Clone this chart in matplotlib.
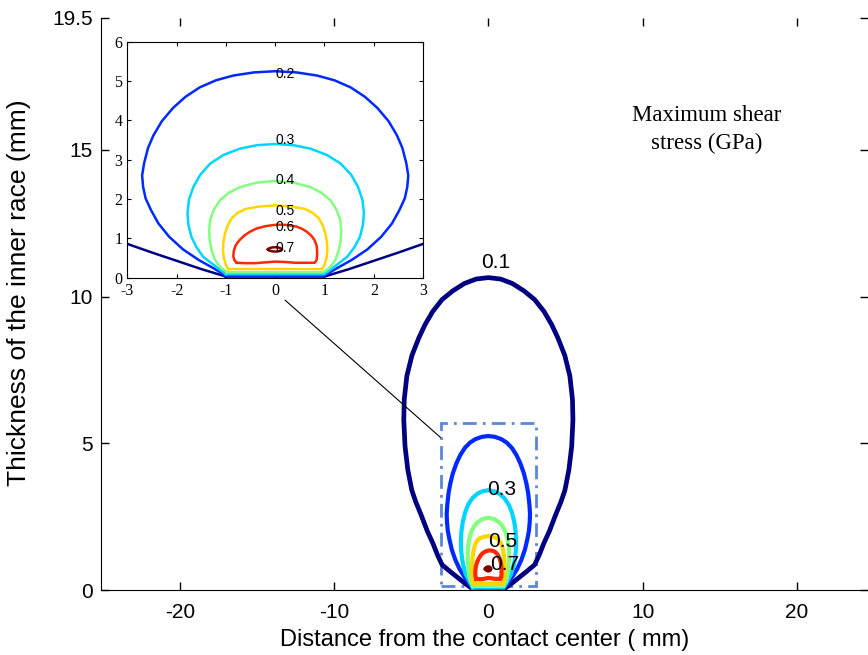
import numpy as np
import matplotlib.pyplot as plt
from matplotlib.colors import LinearSegmentedColormap, Normalize
from matplotlib.patches import Rectangle, ConnectionPatch

plt.rcParams['axes.unicode_minus'] = False
SANS = 'Liberation Sans'
SERIF = 'Liberation Serif'

# contour levels of the maximum shear stress (GPa)
levels = [0.1, 0.2, 0.3, 0.4, 0.5, 0.6, 0.7]

# traced iso-lines, x = distance from contact center (mm), y = depth (mm)
c1_x = [-1.0, -1.5, -2.0, -2.5, -3.0, -3.3, -3.6, -3.95, -4.35, -4.7, -4.96, -5.22, -5.4, -5.48, -5.45, -5.28,
        -4.95, -4.5, -4.1, -3.6, -3.0, -2.3, -1.55, -0.8, 0.0,
        0.8, 1.55, 2.3, 3.0, 3.6, 4.1, 4.5, 4.95, 5.28, 5.45, 5.48, 5.4, 5.22, 4.96, 4.7, 4.35, 3.95, 3.6,
        3.3, 3.0, 2.5, 2.0, 1.5, 1.0, -1.0]
c1_y = [0.03, 0.22, 0.43, 0.64, 0.86, 1.2, 1.6, 2.0, 2.55, 3.0, 3.4, 4.1, 4.9, 5.8, 6.5, 7.3,
        8.0, 8.6, 9.05, 9.5, 9.9, 10.2, 10.45, 10.6, 10.65,
        10.6, 10.45, 10.2, 9.9, 9.5, 9.05, 8.6, 8.0, 7.3, 6.5, 5.8, 4.9, 4.1, 3.4, 3.0, 2.55, 2.0, 1.6,
        1.2, 0.86, 0.64, 0.43, 0.22, 0.03, 0.03]

c2_x = [-1.0, -1.25, -1.55, -1.87, -2.15, -2.37, -2.52, -2.63, -2.68, -2.7, -2.66, -2.58, -2.47, -2.3, -2.07,
        -1.82, -1.53, -1.2, -0.85, -0.43, 0.0,
        0.43, 0.85, 1.2, 1.53, 1.82, 2.07, 2.3, 2.47, 2.58, 2.66, 2.7, 2.68, 2.63, 2.52, 2.37, 2.15, 1.87,
        1.55, 1.25, 1.0, -1.0]
c2_y = [0.05, 0.24, 0.45, 0.72, 1.04, 1.38, 1.72, 2.02, 2.31, 2.6, 2.91, 3.3, 3.62, 3.98, 4.32,
        4.6, 4.84, 5.02, 5.14, 5.22, 5.25,
        5.22, 5.14, 5.02, 4.84, 4.6, 4.32, 3.98, 3.62, 3.3, 2.91, 2.6, 2.31, 2.02, 1.72, 1.38, 1.04, 0.72,
        0.45, 0.24, 0.05, 0.05]

c3_x = [-1.0, -1.2, -1.46, -1.6, -1.7, -1.76, -1.78, -1.75, -1.66, -1.52, -1.32, -1.05, -0.72, -0.37, 0.0,
        0.37, 0.72, 1.05, 1.33, 1.54, 1.68, 1.77, 1.8, 1.78, 1.72, 1.61, 1.46, 1.2, 1.0, -1.0]
c3_y = [0.09, 0.28, 0.53, 0.78, 1.04, 1.34, 1.64, 1.98, 2.31, 2.62, 2.9, 3.12, 3.28, 3.37, 3.40,
        3.37, 3.28, 3.12, 2.9, 2.62, 2.31, 1.98, 1.64, 1.34, 1.04, 0.78, 0.53, 0.28, 0.09, 0.09]

c4_x = [-0.98, -1.12, -1.22, -1.29, -1.33, -1.34, -1.32, -1.24, -1.12, -0.94, -0.72, -0.37, 0.0,
        0.37, 0.72, 0.94, 1.12, 1.24, 1.32, 1.34, 1.33, 1.29, 1.22, 1.12, 0.98, -0.98]
c4_y = [0.14, 0.28, 0.45, 0.7, 0.96, 1.22, 1.47, 1.74, 1.97, 2.16, 2.3, 2.42, 2.46,
        2.42, 2.3, 2.16, 1.97, 1.74, 1.47, 1.22, 0.96, 0.7, 0.45, 0.28, 0.14, 0.14]

c5_x = [-0.95, -1.0, -1.04, -1.06, -1.05, -1.02, -0.96, -0.88, -0.76, -0.6, -0.32, 0.0,
        0.32, 0.6, 0.76, 0.88, 0.96, 1.02, 1.05, 1.06, 1.04, 1.0, 0.95, -0.95]
c5_y = [0.22, 0.32, 0.5, 0.7, 0.9, 1.12, 1.34, 1.52, 1.65, 1.75, 1.81, 1.84,
        1.81, 1.75, 1.65, 1.52, 1.34, 1.12, 0.9, 0.7, 0.5, 0.32, 0.22, 0.22]

c6_x = [-0.78, -0.83, -0.85, -0.84, -0.8, -0.72, -0.62, -0.51, -0.38, -0.2, 0.03, 0.25, 0.43, 0.55, 0.64,
        0.74, 0.8, 0.84, 0.85, 0.85, 0.84, 0.8, 0.6, 0.4, 0.2, 0.0, -0.2, -0.4, -0.6, -0.78]
c6_y = [0.38, 0.45, 0.55, 0.68, 0.83, 0.96, 1.08, 1.17, 1.25, 1.31, 1.35, 1.34, 1.3, 1.24, 1.17,
        1.06, 0.95, 0.82, 0.7, 0.56, 0.45, 0.38, 0.38, 0.38, 0.4, 0.41, 0.39, 0.37, 0.37, 0.38]

c7_x = [-0.15, -0.12, -0.06, 0.0, 0.06, 0.11, 0.14, 0.11, 0.06, 0.0, -0.06, -0.12, -0.15]
c7_y = [0.72, 0.75, 0.77, 0.775, 0.77, 0.75, 0.72, 0.69, 0.67, 0.665, 0.67, 0.69, 0.72]

lines_x = [c1_x, c2_x, c3_x, c4_x, c5_x, c6_x, c7_x]
lines_y = [c1_y, c2_y, c3_y, c4_y, c5_y, c6_y, c7_y]

# which levels get a label
main_lab = [0.1, 0.3, 0.5, 0.7]
main_lab_x = [-0.45, -0.1, 0.0, 0.1]
main_lab_y = [11.15, 3.44, 1.65, 0.88]
ins_lab = [0.2, 0.3, 0.4, 0.5, 0.6, 0.7]
ins_lab_x = [0.0, 0.0, 0.0, 0.0, 0.0, 0.0]
ins_lab_y = [5.19, 3.5, 2.48, 1.70, 1.30, 0.76]

# matlab style jet
jet = LinearSegmentedColormap.from_list('mjet', [(0, (0, 0, 0.5)), (0.125, (0, 0, 1)), (0.375, (0, 1, 1)),
                                                 (0.625, (1, 1, 0)), (0.875, (1, 0, 0)), (1, (0.5, 0, 0))])
norm = Normalize(0.1, 0.7)

fig = plt.figure(figsize=(8.68, 6.55), dpi=100)
ax = fig.add_axes([101/868, 65/655, 767/868, 572/655])

for lv, xs, ys in zip(levels, lines_x, lines_y):
    ax.plot(xs, ys, color=jet(norm(lv)), lw=3.4 if lv == 0.1 else 3.0, solid_joinstyle='round')
for lv, tx, ty in zip(main_lab, main_lab_x, main_lab_y):
    ax.text(tx, ty, f'{lv:g}', ha='left', va='center', fontsize=15, family=SANS)

ax.add_patch(Rectangle((-3.1, 0.15), 6.2, 5.55, fill=False, ec='#5a88d6', lw=2,
                       ls=(0, (5, 2.2, 1, 2.2))))

ax.text(14.15, 15.7, 'Maximum shear\nstress (GPa)', ha='center', va='center', multialignment='center',
        fontsize=16.5, family=SERIF, linespacing=1.4)

ax.set_xlim(-25.1, 24.6)
ax.set_ylim(0, 19.5)
ax.set_xticks([-20, -10, 0, 10, 20])
ax.set_yticks([0, 5, 10, 15, 19.5])
ax.set_yticklabels(['0', '5', '10', '15', '19.5'])
ax.tick_params(direction='in', length=6, width=1, top=True, right=True, labelsize=15)
ax.tick_params(axis='x', pad=9)
ax.tick_params(axis='y', pad=6)
for t in ax.get_xticklabels() + ax.get_yticklabels():
    t.set_family(SANS)
ax.spines['top'].set_visible(False)
ax.spines['right'].set_visible(False)

ax.set_xlabel('Distance from the contact center ( mm)', fontsize=17, family=SANS)
ax.set_ylabel('Thickness of the inner race (mm)', fontsize=19, family=SANS)
ax.xaxis.set_label_coords(0.5, -0.068)
ax.yaxis.set_label_coords(-0.091, 0.52)

# zoomed view near the contact
ins = fig.add_axes([0.1467, 0.576, 0.3407, 0.3603])
for lv, xs, ys in zip(levels, lines_x, lines_y):
    ins.plot(xs, ys, color=jet(norm(lv)), lw=1.8, solid_joinstyle='round')
for lv, tx, ty in zip(ins_lab, ins_lab_x, ins_lab_y):
    ins.text(tx, ty, f'{lv:g}', ha='left', va='center', fontsize=10, family=SANS)
ins.set_xlim(-3, 3)
ins.set_ylim(0, 6)
ins.set_xticks(range(-3, 4))
ins.set_yticks(range(0, 7))
ins.tick_params(direction='in', length=3, width=0.8, top=True, right=True, labelsize=11.5, pad=3.5)
for t in ins.get_xticklabels() + ins.get_yticklabels():
    t.set_family(SERIF)

con = ConnectionPatch(xyA=(0.2, -0.57), coordsA=ins.transData, xyB=(-3.1, 5.2), coordsB=ax.transData,
                      color='k', lw=0.8)
fig.add_artist(con)

fig.savefig('out.png', dpi=100)
